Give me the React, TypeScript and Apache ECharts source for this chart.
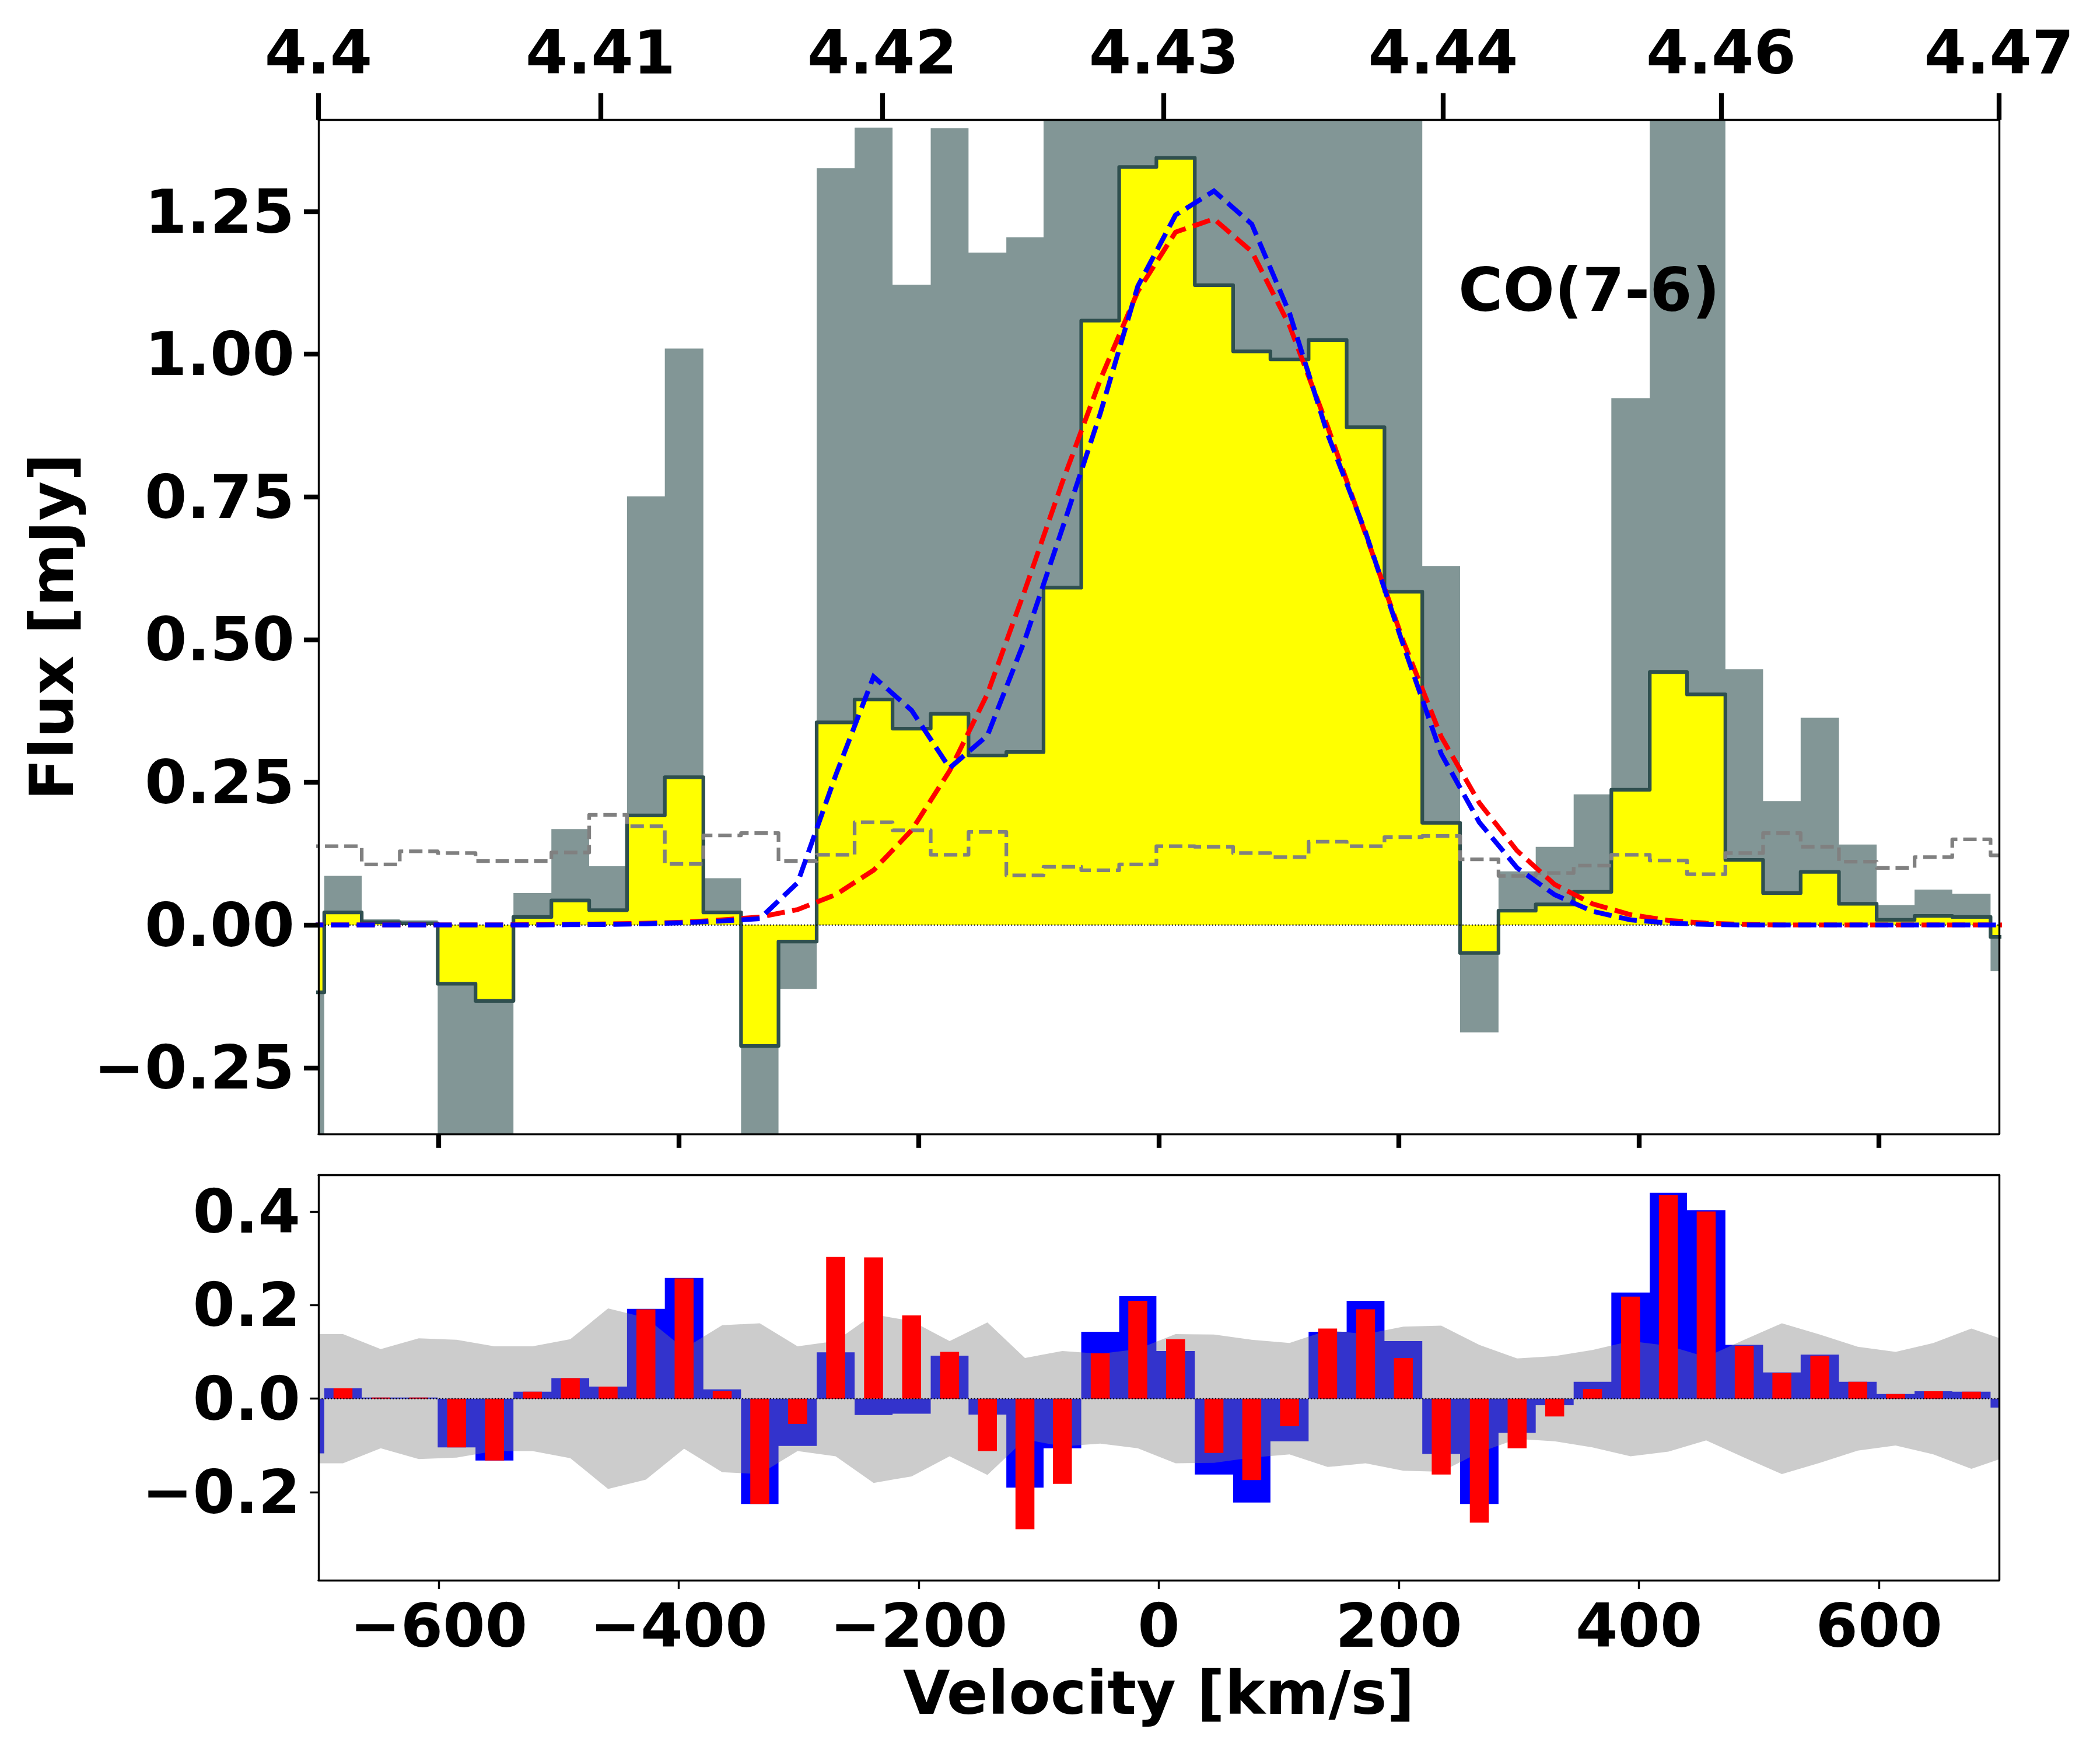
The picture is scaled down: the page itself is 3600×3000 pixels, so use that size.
import { useEffect, useRef } from 'react'
import * as echarts from 'echarts'

const binEdges = [
  -726.7, -695.2, -664, -632.3, -600.7, -569.2, -537.6, -506, -474.5, -443,
  -411.5, -379.4, -348, -316.8, -285, -253.4, -221.8, -190, -158.5, -127,
  -96, -64.6, -33, -2, 30, 61.9, 93, 124.8, 156.5, 188, 219.5, 251, 283, 314,
  345.6, 377, 409, 440, 472, 503.4, 534.7, 566.6, 598, 629.6, 661, 692.9, 724.5
]

const flux = [
  -0.118, 0.022, 0.005, 0.003, -0.103, -0.133, 0.014, 0.043, 0.026, 0.192,
  0.259, 0.022, -0.212, -0.029, 0.355, 0.395, 0.344, 0.37, 0.297, 0.303,
  0.591, 1.059, 1.328, 1.344, 1.121, 1.005, 0.991, 1.025, 0.872, 0.584,
  0.179, -0.049, 0.025, 0.036, 0.058, 0.237, 0.443, 0.404, 0.114, 0.056,
  0.093, 0.037, 0.009, 0.016, 0.014, -0.021
]

// runs off the axes where the panel cuts it
const scaledFlux = [
  -0.46, 0.086, 0.01, 0.008, -0.41, -0.52, 0.056, 0.168, 0.103, 0.751,
  1.01, 0.082, -0.83, -0.112, 1.326, 1.397, 1.122, 1.396, 1.178, 1.205,
  2.3, 4.1, 5.1, 5.2, 4.3, 3.9, 3.8, 4, 3.4, 2.3,
  0.629, -0.188, 0.094, 0.137, 0.229, 0.923, 1.72, 1.57, 0.448, 0.217,
  0.363, 0.141, 0.035, 0.062, 0.055, -0.081
]

const noise = [
  0.138, 0.138, 0.106, 0.129, 0.126, 0.112, 0.112, 0.127, 0.193, 0.173,
  0.107, 0.157, 0.161, 0.112, 0.123, 0.18, 0.166, 0.123, 0.163, 0.087,
  0.102, 0.096, 0.106, 0.138, 0.137, 0.126, 0.119, 0.146, 0.138, 0.154,
  0.156, 0.115, 0.086, 0.091, 0.104, 0.123, 0.113, 0.089, 0.126, 0.161,
  0.137, 0.111, 0.1, 0.119, 0.15, 0.122
]

const redModel = [
  0, 0, 0, 0, 0, 0, 0.0005, 0.001, 0.002, 0.003,
  0.005, 0.009, 0.014, 0.027, 0.053, 0.096, 0.166, 0.27, 0.405, 0.587,
  0.776, 0.955, 1.11, 1.214, 1.237, 1.18, 1.05, 0.873, 0.685, 0.497,
  0.33, 0.214, 0.13, 0.071, 0.037, 0.018, 0.008, 0.003, 0.001, 0,
  0, 0, 0, 0, 0, 0
]

const blueModel = [
  0, 0, 0, 0, 0, 0, 0, 0.0005, 0.001, 0.002,
  0.004, 0.007, 0.011, 0.074, 0.262, 0.435, 0.376, 0.275, 0.332, 0.5,
  0.695, 0.896, 1.119, 1.244, 1.286, 1.228, 1.072, 0.86, 0.688, 0.49,
  0.3, 0.18, 0.1, 0.053, 0.024, 0.009, 0.0035, 0.001, 0, 0,
  0, 0, 0, 0, 0, 0
]

const blueResidual = [
  -0.117, 0.022, 0.0025, 0.0025, -0.104, -0.132, 0.015, 0.044, 0.026, 0.192,
  0.258, 0.02, -0.225, -0.101, 0.099, -0.035, -0.032, 0.092, -0.034, -0.19,
  -0.106, 0.143, 0.219, 0.102, -0.162, -0.222, -0.091, 0.143, 0.209, 0.123,
  -0.118, -0.225, -0.073, -0.014, 0.036, 0.227, 0.44, 0.403, 0.115, 0.056,
  0.094, 0.036, 0.01, 0.016, 0.015, -0.019
]

const redResidual = [
  -0.117, 0.022, 0.0025, 0.0025, -0.104, -0.132, 0.015, 0.044, 0.026, 0.191,
  0.257, 0.016, -0.225, -0.054, 0.303, 0.302, 0.178, 0.1, -0.112, -0.279,
  -0.182, 0.097, 0.209, 0.127, -0.116, -0.174, -0.059, 0.15, 0.191, 0.087,
  -0.162, -0.265, -0.106, -0.038, 0.021, 0.218, 0.435, 0.4, 0.113, 0.055,
  0.092, 0.036, 0.01, 0.016, 0.015, -0.019
]

const velocityTicks = [-600, -400, -200, 0, 200, 400, 600]
const fluxTicks = [-0.25, 0, 0.25, 0.5, 0.75, 1, 1.25]
const residualTicks = [-0.2, 0, 0.2, 0.4]
const redshiftTicks = [-700, -465, -230.3, 4.2, 236.9, 468.4, 700]
const redshiftLabels = ['4.4', '4.41', '4.42', '4.43', '4.44', '4.46', '4.47']

const binCenters = binEdges.slice(0, -1).map((e, i) => (e + binEdges[i + 1]) / 2)
const steps = (vals: number[]) =>
  vals.flatMap((v, i) => [
    [binEdges[i], v],
    [binEdges[i + 1], v]
  ])
const atCenters = (vals: number[]) => vals.map((v, i) => [binCenters[i], v])
const minus = (s: string) => s.replace('-', '\u2212')

const font = {
  fontFamily: 'DejaVu Sans',
  fontWeight: 'bold' as const,
  fontSize: 104.17,
  color: '#000'
}

const spine = { show: true, onZero: false, lineStyle: { color: '#000', width: 3.4 } }

function xAxis(gridIndex: number, extra: object) {
  return {
    type: 'value',
    gridIndex,
    min: -700,
    max: 700,
    z: 10,
    splitLine: { show: false },
    axisLine: spine,
    axisTick: { show: false },
    axisLabel: { show: false },
    ...extra
  }
}

function yAxis(gridIndex: number, min: number, max: number, extra: object) {
  return {
    type: 'value',
    gridIndex,
    min,
    max,
    z: 10,
    splitLine: { show: false },
    axisLine: spine,
    axisTick: { show: false },
    axisLabel: { show: false },
    ...extra
  }
}

function filled(data: number[][], color: string, z: number, xAxisIndex = 0, yAxisIndex = 0) {
  return {
    type: 'line',
    xAxisIndex,
    yAxisIndex,
    data,
    z,
    symbol: 'none',
    silent: true,
    lineStyle: { width: 0 },
    areaStyle: { color, opacity: 1 }
  }
}

function curve(
  data: number[][],
  color: string,
  width: number,
  type: string | number[],
  z: number,
  join = 'miter',
  xAxisIndex = 0,
  yAxisIndex = 0
) {
  return {
    type: 'line',
    xAxisIndex,
    yAxisIndex,
    data,
    z,
    symbol: 'none',
    silent: true,
    lineStyle: { color, width, type, cap: 'butt', join }
  }
}

const zeroLine = [
  [-700, 0],
  [700, 0]
]

function App() {
  const chartRef = useRef<HTMLDivElement>(null)

  useEffect(() => {
    if (!chartRef.current) return
    const chart = echarts.init(chartRef.current, null, { renderer: 'svg' })

    chart.setOption({
      animation: false,
      backgroundColor: '#fff',
      grid: [
        { left: 546, top: 205.6, width: 2881, height: 1738.2, outerBoundsMode: 'none' },
        { left: 546, top: 2014.3, width: 2881, height: 694.7, outerBoundsMode: 'none' }
      ],
      xAxis: [
        xAxis(0, {
          position: 'bottom',
          axisTick: {
            show: true,
            customValues: velocityTicks,
            length: 24,
            lineStyle: { color: '#000', width: 8.3 }
          }
        }),
        xAxis(0, {
          position: 'top',
          axisTick: {
            show: true,
            customValues: redshiftTicks,
            length: 46,
            lineStyle: { color: '#000', width: 8.3 }
          },
          axisLabel: {
            show: true,
            ...font,
            customValues: redshiftTicks,
            margin: 64,
            showMinLabel: true,
            showMaxLabel: true,
            hideOverlap: false,
            formatter: (v: number) => redshiftLabels[redshiftTicks.indexOf(v)]
          }
        }),
        xAxis(1, {
          position: 'bottom',
          name: 'Velocity [km/s]',
          nameLocation: 'middle',
          nameGap: 141,
          nameTextStyle: font,
          axisTick: {
            show: true,
            customValues: velocityTicks,
            length: 15,
            lineStyle: { color: '#000', width: 3.4 }
          },
          axisLabel: {
            show: true,
            ...font,
            customValues: velocityTicks,
            margin: 26,
            formatter: (v: number) => minus(String(v))
          }
        }),
        xAxis(1, { position: 'top' })
      ],
      yAxis: [
        yAxis(0, -0.366, 1.4105, {
          position: 'left',
          name: 'Flux [mJy]',
          nameLocation: 'middle',
          nameGap: 405,
          nameRotate: 90,
          nameTextStyle: font,
          axisTick: {
            show: true,
            customValues: fluxTicks,
            length: 25,
            lineStyle: { color: '#000', width: 8.3 }
          },
          axisLabel: {
            show: true,
            ...font,
            customValues: fluxTicks,
            margin: 41,
            padding: [12, 0, 0, 0],
            formatter: (v: number) => minus(v.toFixed(2))
          }
        }),
        yAxis(0, -0.366, 1.4105, { position: 'right' }),
        yAxis(1, -0.388, 0.478, {
          position: 'left',
          axisTick: {
            show: true,
            customValues: residualTicks,
            length: 14.6,
            lineStyle: { color: '#000', width: 3.4 }
          },
          axisLabel: {
            show: true,
            ...font,
            customValues: residualTicks,
            margin: 31,
            padding: [12, 0, 0, 0],
            formatter: (v: number) => minus(v.toFixed(1))
          }
        }),
        yAxis(1, -0.388, 0.478, { position: 'right' })
      ],
      series: [
        filled(steps(scaledFlux), '#829696', 1),
        filled(steps(flux), '#ffff00', 2),
        curve(steps(flux), '#2f4f4f', 6.25, 'solid', 3, 'round'),
        curve(steps(noise), '#808080', 6.25, [23, 10], 4, 'round'),
        curve(zeroLine, '#000', 2, [2, 3.3], 5),
        curve(atCenters(redModel), '#ff0000', 8.3, [31, 13], 6),
        curve(atCenters(blueModel), '#0000ff', 8.3, [31, 13], 7),
        filled(steps(blueResidual), '#0000ff', 1, 2, 2),
        filled(atCenters(noise), 'rgba(128, 128, 128, 0.4)', 2, 2, 2),
        filled(
          atCenters(noise.map((v) => -v)),
          'rgba(128, 128, 128, 0.4)',
          2,
          2,
          2
        ),
        {
          type: 'bar',
          xAxisIndex: 2,
          yAxisIndex: 2,
          // first and last bins are centred outside the axis range
          data: atCenters(redResidual).slice(1, -1),
          barWidth: 32.5,
          z: 3,
          silent: true,
          itemStyle: { color: '#ff0000' }
        },
        curve(zeroLine, '#000', 2, [2, 3.3], 4, 'miter', 2, 2)
      ],
      graphic: [
        {
          type: 'text',
          x: 2500,
          y: 445,
          z: 20,
          silent: true,
          style: {
            text: 'CO(7-6)',
            font: 'bold 104.17px "DejaVu Sans"',
            fill: '#000'
          }
        }
      ]
    })

    return () => {
      chart.dispose()
    }
  }, [])

  return (
    <div
      ref={chartRef}
      style={{ position: 'absolute', left: 0, top: 0, width: 3600, height: 3000 }}
    />
  )
}

export default App
